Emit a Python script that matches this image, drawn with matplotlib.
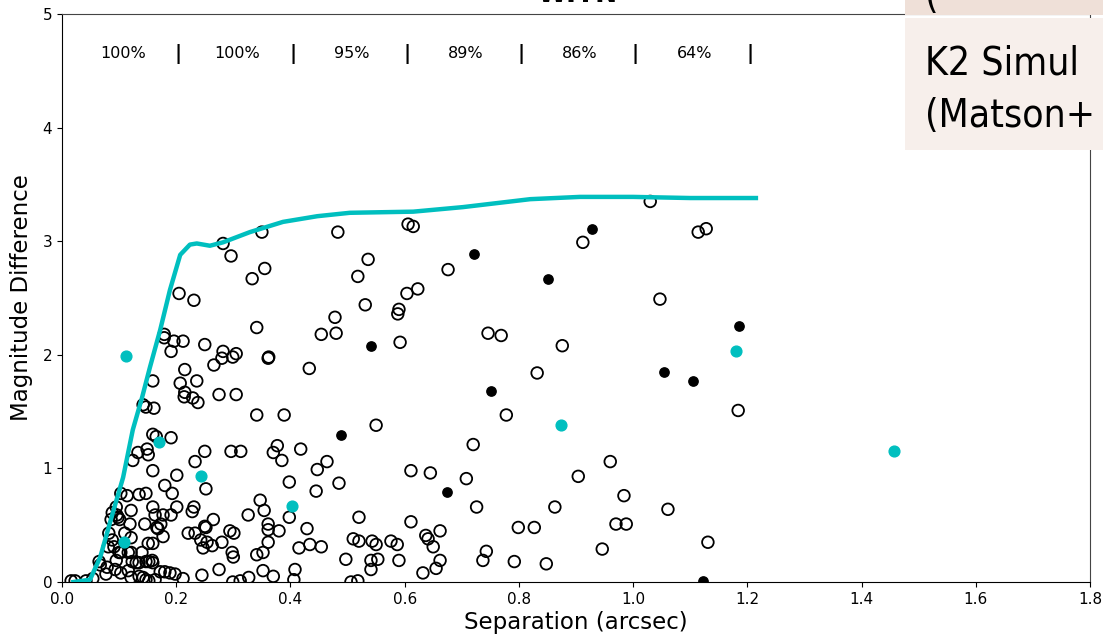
import matplotlib.pyplot as plt
from matplotlib.patches import Rectangle
from matplotlib import font_manager
from matplotlib.font_manager import FontProperties

# sensitivity curve (K2 simulation)
curve_sep = [0.02, 0.049, 0.067, 0.089, 0.107, 0.124, 0.140, 0.154, 0.172, 0.189, 0.207,
             0.224, 0.236, 0.259, 0.282, 0.329, 0.387, 0.447, 0.504, 0.615, 0.702,
             0.82, 0.907, 1.0, 1.1, 1.215]
curve_dm = [0.0, 0.02, 0.22, 0.61, 0.92, 1.34, 1.62, 1.89, 2.22, 2.57, 2.88,
            2.97, 2.98, 2.96, 2.99, 3.08, 3.17, 3.22, 3.25, 3.26, 3.30,
            3.37, 3.39, 3.39, 3.38, 3.38]

# simulated companions (open circles)
open_sep = [0.205, 0.231, 0.282, 0.296, 0.350, 0.355, 0.333, 0.483, 0.478, 0.454, 0.480, 0.341,
            0.159, 0.179, 0.179, 0.196, 0.212, 0.191, 0.250, 0.282, 0.280, 0.299, 0.305, 0.266,
            0.215, 0.207, 0.236, 0.361, 0.362, 0.433, 0.215, 0.214, 0.229, 0.275, 0.305, 0.606,
            0.615, 0.536, 0.518, 0.676, 0.604, 0.623, 0.531, 0.590, 0.588, 0.746, 0.769, 0.592,
            0.876, 0.832, 0.912, 1.030, 1.114, 1.128, 1.047, 1.184, 1.061, 1.131, 0.778, 0.720,
            0.645, 0.708, 0.726, 0.863, 0.904, 0.960, 0.984, 0.799, 0.827, 0.970, 0.988, 0.946,
            0.637, 0.641, 0.662, 0.650, 0.662, 0.655, 0.632, 0.743, 0.737, 0.792, 0.848, 0.341,
            0.389, 0.550, 0.250, 0.296, 0.313, 0.377, 0.370, 0.385, 0.418, 0.464, 0.447, 0.485,
            0.398, 0.445, 0.252, 0.611, 0.520, 0.611, 0.326, 0.354, 0.347, 0.361, 0.361, 0.380,
            0.398, 0.265, 0.252, 0.294, 0.301, 0.280, 0.254, 0.247, 0.263, 0.298, 0.300, 0.341,
            0.352, 0.361, 0.415, 0.434, 0.454, 0.429, 0.510, 0.520, 0.543, 0.550, 0.576, 0.587,
            0.590, 0.497, 0.541, 0.553, 0.541, 0.275, 0.352, 0.370, 0.408, 0.406, 0.327, 0.299,
            0.312, 0.506, 0.518, 0.238, 0.245, 0.147, 0.161, 0.142, 0.159, 0.165, 0.191, 0.124,
            0.133, 0.149, 0.151, 0.159, 0.201, 0.233, 0.180, 0.193, 0.231, 0.228, 0.103, 0.114,
            0.135, 0.147, 0.095, 0.096, 0.121, 0.159, 0.163, 0.177, 0.191, 0.201, 0.086, 0.088,
            0.098, 0.101, 0.119, 0.145, 0.166, 0.173, 0.168, 0.177, 0.221, 0.233, 0.243, 0.250,
            0.082, 0.088, 0.110, 0.121, 0.065, 0.067, 0.079, 0.077, 0.081, 0.091, 0.100, 0.095,
            0.103, 0.116, 0.123, 0.130, 0.135, 0.147, 0.152, 0.158, 0.159, 0.121, 0.140, 0.151,
            0.159, 0.093, 0.103, 0.116, 0.121, 0.135, 0.142, 0.147, 0.152, 0.163, 0.172, 0.180,
            0.189, 0.198, 0.212, 0.016, 0.023, 0.042, 0.054]
open_dm = [2.54, 2.48, 2.98, 2.87, 3.08, 2.76, 2.67, 3.08, 2.33, 2.18, 2.19, 2.24,
           1.77, 2.18, 2.15, 2.12, 2.12, 2.03, 2.09, 2.03, 1.97, 1.98, 2.01, 1.91,
           1.87, 1.75, 1.77, 1.97, 1.98, 1.88, 1.67, 1.63, 1.62, 1.65, 1.65, 3.15,
           3.13, 2.84, 2.69, 2.75, 2.54, 2.58, 2.44, 2.40, 2.36, 2.19, 2.17, 2.11,
           2.08, 1.84, 2.99, 3.35, 3.08, 3.11, 2.49, 1.51, 0.64, 0.35, 1.47, 1.21,
           0.96, 0.91, 0.66, 0.66, 0.93, 1.06, 0.76, 0.48, 0.48, 0.51, 0.51, 0.29,
           0.41, 0.38, 0.45, 0.31, 0.19, 0.12, 0.08, 0.27, 0.19, 0.18, 0.16, 1.47,
           1.47, 1.38, 1.15, 1.15, 1.15, 1.20, 1.14, 1.07, 1.17, 1.06, 0.99, 0.87,
           0.88, 0.80, 0.82, 0.98, 0.57, 0.53, 0.59, 0.63, 0.72, 0.51, 0.46, 0.45,
           0.57, 0.55, 0.48, 0.45, 0.43, 0.35, 0.35, 0.30, 0.32, 0.26, 0.22, 0.24,
           0.26, 0.35, 0.30, 0.33, 0.31, 0.47, 0.38, 0.36, 0.36, 0.33, 0.36, 0.33,
           0.19, 0.20, 0.19, 0.20, 0.11, 0.11, 0.10, 0.05, 0.11, 0.02, 0.04, 0.00,
           0.01, 0.00, 0.01, 1.58, 0.06, 1.54, 1.53, 1.56, 1.30, 1.28, 1.27, 1.07,
           1.14, 1.17, 1.12, 0.98, 0.94, 1.06, 0.85, 0.78, 0.66, 0.62, 0.78, 0.76,
           0.77, 0.78, 0.66, 0.59, 0.63, 0.66, 0.59, 0.59, 0.59, 0.66, 0.55, 0.61,
           0.57, 0.55, 0.51, 0.51, 0.48, 0.51, 0.47, 0.40, 0.43, 0.43, 0.37, 0.49,
           0.43, 0.37, 0.43, 0.39, 0.18, 0.15, 0.13, 0.07, 0.31, 0.31, 0.26, 0.19,
           0.26, 0.26, 0.18, 0.17, 0.17, 0.18, 0.18, 0.19, 0.17, 0.26, 0.26, 0.34,
           0.34, 0.11, 0.08, 0.10, 0.04, 0.05, 0.04, 0.02, 0.01, 0.02, 0.09, 0.09,
           0.08, 0.07, 0.03, 0.01, 0.01, 0.01, 0.03]

# detected companions (filled black)
det_sep = [0.722, 0.851, 0.928, 0.541, 0.751, 1.186, 1.054, 1.105, 0.489, 0.674, 1.123]
det_dm = [2.89, 2.67, 3.11, 2.08, 1.68, 2.25, 1.85, 1.77, 1.29, 0.79, 0.01]

# observed (cyan)
obs_sep = [0.112, 0.170, 0.109, 0.243, 0.403, 0.874, 1.180, 1.457]
obs_dm = [1.99, 1.23, 0.35, 0.93, 0.67, 1.38, 2.03, 1.15]

bin_centers = [0.1, 0.3, 0.5, 0.7, 0.9, 1.1]
bin_edges = [0.2, 0.4, 0.6, 0.8, 1.0, 1.2]
bin_labels = ['100%', '100%', '95%', '89%', '86%', '64%']

fig = plt.figure(figsize=(11.03, 6.39), dpi=100)
ax = fig.add_axes([0.0562, 0.0892, 0.9320, 0.8889])

ax.plot(curve_sep, curve_dm, color='c', linewidth=3.2, zorder=3)
ax.scatter(open_sep, open_dm, s=70, facecolors='none', edgecolors='black', linewidths=1.3, zorder=2)
ax.scatter(det_sep, det_dm, s=45, color='black', zorder=4)
ax.scatter(obs_sep, obs_dm, s=60, color='c', zorder=4)

for xc, lab in zip(bin_centers, bin_labels):
    ax.text(xc + 0.007, 4.65, lab, ha='center', va='center', fontsize=11.5)
for xe in bin_edges:
    ax.text(xe + 0.004, 4.65, '|', ha='center', va='center', fontsize=14, fontweight='bold')

ax.set_xlim(0, 1.8)
ax.set_ylim(0, 5)
ax.set_xticks([0.0, 0.2, 0.4, 0.6, 0.8, 1.0, 1.2, 1.4, 1.6, 1.8])
ax.tick_params(labelsize=11)
ax.set_xlabel('Separation (arcsec)', fontsize=16.5, labelpad=3)
ax.set_ylabel('Magnitude Difference', fontsize=16.5, labelpad=7)
for side in ['top', 'right']:
    ax.spines[side].set_color('#444444')

# cropped slide title and overlay box
fig.text(0.523, 1.008, 'WIYN', ha='center', va='center', fontsize=19, fontweight='bold')

# narrow font for the overlay box if one is installed
names = {f.name for f in font_manager.fontManager.ttflist}
if 'Liberation Sans Narrow' in names:
    box_prop = FontProperties(family='Liberation Sans Narrow', size=32)
else:
    cond = FontProperties(family='DejaVu Sans', stretch='condensed', size=28)
    if 'Condensed' in font_manager.findfont(cond):
        box_prop = cond
    else:
        box_prop = FontProperties(family='Liberation Sans', size=27)

fig.add_artist(Rectangle((0.8205, 0.9765), 0.18, 0.03, transform=fig.transFigure,
                         facecolor='#efe0d8', edgecolor='none', zorder=10))
fig.add_artist(Rectangle((0.8205, 0.765), 0.18, 0.207, transform=fig.transFigure,
                         facecolor='#f7efeb', edgecolor='none', zorder=10))
fig.text(0.8386, 0.987, '(', fontproperties=box_prop, va='baseline', zorder=11)
fig.text(0.8386, 0.884, 'K2 Simul', fontproperties=box_prop, va='baseline', zorder=11)
fig.text(0.8386, 0.801, '(Matson+', fontproperties=box_prop, va='baseline', zorder=11)

fig.savefig('out.png', dpi=100)
